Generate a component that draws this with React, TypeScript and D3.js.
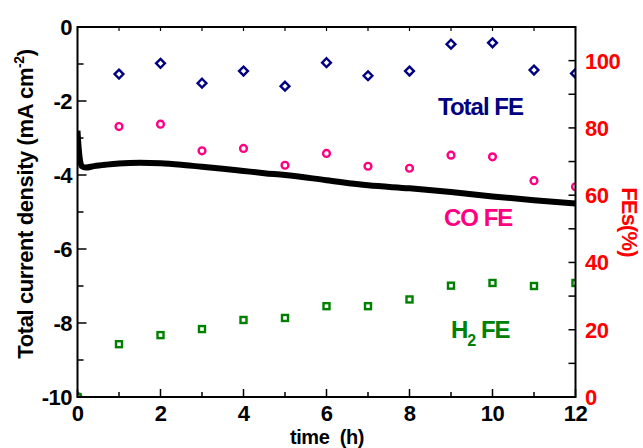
import React from "react";
import * as d3 from "d3";

// time (h) for the FE measurements
const hours = [0, 1, 2, 3, 4, 5, 6, 7, 8, 9, 10, 11, 12];
const totalFE = [0, 96.0, 99.2, 93.3, 96.9, 92.4, 99.4, 95.5, 96.9, 104.9, 105.3, 97.2, 96.2];
const coFE = [0, 80.4, 81.1, 73.2, 73.9, 68.9, 72.4, 68.6, 68.0, 71.9, 71.4, 64.3, 62.5];
const h2FE = [0, 15.7, 18.4, 20.2, 22.9, 23.5, 27.0, 27.0, 29.0, 33.1, 33.9, 33.0, 33.9];

// current density trace (time h, mA cm^-2)
const curTime = [0, 0.03, 0.1, 0.2, 0.4, 0.7, 1, 1.5, 2, 2.5, 3, 3.5, 4, 4.5, 5, 6, 7, 8, 9, 10, 11, 12];
const curVal = [-2.8, -3.3, -3.76, -3.8, -3.76, -3.72, -3.69, -3.67, -3.68, -3.72, -3.78, -3.83, -3.89, -3.95, -4.0, -4.14, -4.28, -4.36, -4.46, -4.58, -4.68, -4.77];

const xTicks = [0, 2, 4, 6, 8, 10, 12];
const yLeftTicks = [0, -2, -4, -6, -8, -10];
const yRightTicks = [0, 20, 40, 60, 80, 100];

const NAVY = "#000080";
const PINK = "#FF0080";
const GREEN = "#008000";
const RED = "#FF0000";
const FONT = "'Liberation Sans', Arial, sans-serif";

export default function App() {
  const L = 77.5, R = 575.5, T = 27, B = 397;
  const x = d3.scaleLinear().domain([0, 12]).range([L, R]);
  const yL = d3.scaleLinear().domain([-10, 0]).range([B, T]);
  const yR = d3.scaleLinear().domain([0, 110]).range([B, T]);

  const line = d3
    .line<number>()
    .x((_, i) => x(curTime[i]))
    .y((d) => yL(d))
    .curve(d3.curveMonotoneX);

  const minorX = d3.range(0, 13, 1);
  const minorYL = d3.range(-10, 1, 1);
  const minorYR = d3.range(0, 111, 10);

  return (
    <svg width={643} height={448} style={{ position: "absolute", left: 0, top: 0, background: "#fff" }}>
      <defs>
        <clipPath id="plot">
          <rect x={L} y={T} width={R - L} height={B - T} />
        </clipPath>
      </defs>
      <rect x={0} y={0} width={643} height={448} fill="#fff" />

      <g clipPath="url(#plot)">
        {/* current trace */}
        <path d={line(curVal) || ""} fill="none" stroke="#000" strokeWidth={6} strokeLinejoin="round" />
        {/* Total FE diamonds */}
        {hours.map((h, i) => {
          const cx = x(h), cy = yR(totalFE[i]);
          const s = 4.4;
          return (
            <path key={"d" + i} d={`M${cx},${cy - s}L${cx + s},${cy}L${cx},${cy + s}L${cx - s},${cy}Z`} fill="#fff" stroke={NAVY} strokeWidth={2.4} />
          );
        })}
        {hours.map((h, i) => (
          <circle key={"c" + i} cx={x(h)} cy={yR(coFE[i])} r={3.4} fill="#fff" stroke={PINK} strokeWidth={2.4} />
        ))}
        {hours.map((h, i) => (
          <rect key={"s" + i} x={x(h) - 3} y={yR(h2FE[i]) - 3} width={6} height={6} fill="#fff" stroke={GREEN} strokeWidth={2.4} />
        ))}
      </g>

      {/* frame */}
      <rect x={L} y={T} width={R - L} height={B - T} fill="none" stroke="#000" strokeWidth={2} />

      {/* bottom & top ticks */}
      {minorX.map((v) => (
        <g key={"xt" + v}>
          <line x1={x(v)} x2={x(v)} y1={B} y2={B - (v % 2 === 0 ? 8 : 5)} stroke="#000" strokeWidth={1.5} />
          <line x1={x(v)} x2={x(v)} y1={T} y2={T + 4} stroke="#000" strokeWidth={1.2} />
        </g>
      ))}
      {/* left ticks */}
      {minorYL.map((v) => (
        <line key={"yl" + v} x1={L} x2={L + (v % 2 === 0 ? 9 : 6)} y1={yL(v)} y2={yL(v)} stroke="#000" strokeWidth={1.5} />
      ))}
      {/* right ticks */}
      {minorYR.map((v) => (
        <line key={"yr" + v} x1={R} x2={R - 7} y1={yR(v)} y2={yR(v)} stroke="#000" strokeWidth={1.5} />
      ))}

      {/* tick labels */}
      <g fontFamily={FONT} fontWeight="bold" fontSize={22}>
        {xTicks.map((v) => (
          <text key={"xl" + v} x={x(v)} y={421} textAnchor="middle" fill="#000" letterSpacing={-0.5}>
            {v}
          </text>
        ))}
        {yLeftTicks.map((v) => (
          <text key={"ll" + v} x={72} y={yL(v) + 8} textAnchor="end" fill="#000" letterSpacing={-0.5}>
            {v}
          </text>
        ))}
        {yRightTicks.map((v) => (
          <text key={"rl" + v} x={585} y={yR(v) + 8} textAnchor="start" fill={RED} letterSpacing={-0.5}>
            {v}
          </text>
        ))}
      </g>

      {/* axis titles */}
      <text x={327} y={444} textAnchor="middle" fontFamily={FONT} fontWeight="bold" fontSize={20} fill="#000" letterSpacing={-0.4} style={{ whiteSpace: "pre" }}>
        time  (h)
      </text>
      <text
        transform="translate(33,204) rotate(-90)"
        textAnchor="middle"
        fontFamily={FONT}
        fontWeight="bold"
        fontSize={22}
        fill="#000"
        letterSpacing={-0.4}
      >
        Total current density (mA cm<tspan fontSize={14} dy={-9}>-2</tspan><tspan dy={9}>)</tspan>
      </text>
      <text
        transform="translate(622,222) rotate(90)"
        textAnchor="middle"
        fontFamily={FONT}
        fontWeight="bold"
        fontSize={22}
        fill={RED}
        letterSpacing={-0.8}
      >
        FEs(%)
      </text>

      {/* series labels */}
      <text x={438} y={115} fontFamily={FONT} fontWeight="bold" fontSize={24} fill={NAVY} letterSpacing={-1}>
        Total FE
      </text>
      <text x={444} y={226} fontFamily={FONT} fontWeight="bold" fontSize={24} fill={PINK} letterSpacing={-1}>
        CO FE
      </text>
      <text x={451} y={338} fontFamily={FONT} fontWeight="bold" fontSize={24} fill={GREEN} letterSpacing={-1}>
        H<tspan fontSize={16} dy={8}>2</tspan>
        <tspan dy={-8}> FE</tspan>
      </text>
    </svg>
  );
}
